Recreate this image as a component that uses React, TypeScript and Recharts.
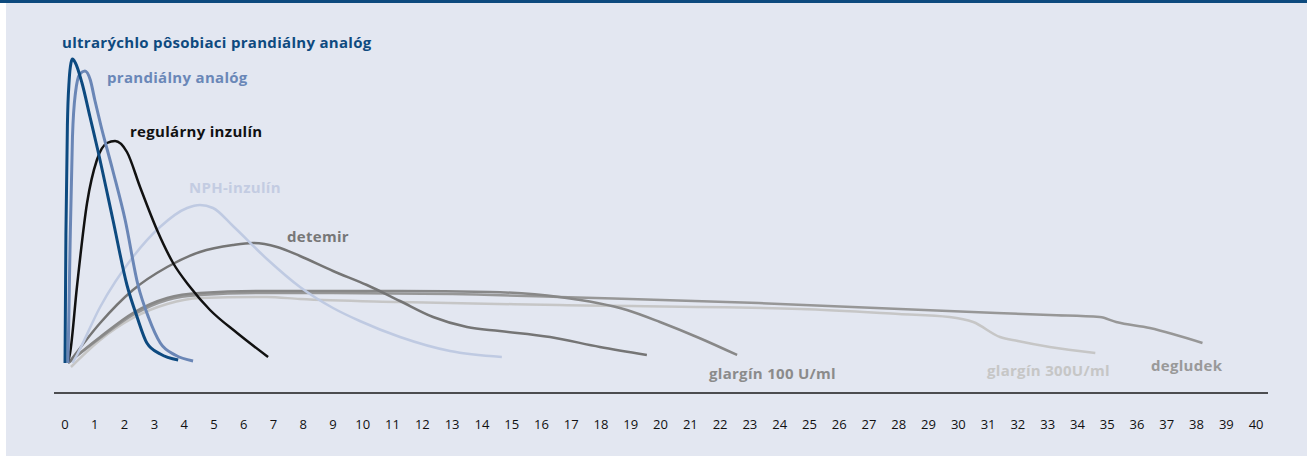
import React from "react";
import { LineChart, Line, XAxis, YAxis } from "recharts";

// hours after injection
const hourTicks = Array.from({ length: 41 }, (_, i) => i);

// each profile: time (h) and action (arbitrary units)
const ultraT = [0, 0.03, 0.08, 0.14, 0.2, 0.25, 0.35, 0.57, 0.84, 1.1, 1.61, 2.08, 2.42, 2.75, 3.2, 3.8];
const ultraV = [2, 130, 240, 285, 302, 306, 302, 282, 248, 215, 145, 80, 48, 22, 11, 5];

const prandialT = [0.1, 0.17, 0.25, 0.35, 0.5, 0.67, 0.85, 1.0, 1.2, 1.6, 2.02, 2.45, 2.8, 3.2, 3.7, 4.3];
const prandialV = [2, 120, 228, 272, 291, 294, 285, 265, 240, 195, 145, 80, 48, 22, 10, 4];

const regularT = [0.1, 0.17, 0.4, 0.74, 1.07, 1.41, 1.68, 2.08, 2.52, 3.09, 3.63, 4.2, 4.87, 5.78, 6.82];
const regularV = [3, 12, 78, 162, 205, 222, 224, 213, 178, 135, 102, 78, 55, 32, 8];

const nphT = [0.25, 0.4, 1.18, 2.28, 3.19, 4.1, 4.53, 4.97, 5.64, 6.78, 7.89, 9.0, 9.9, 11.25, 12.93, 14.67];
const nphV = [2, 10, 58, 108, 138, 157, 160, 157, 139, 106, 78, 57, 44, 28, 14, 8];

const detemirT = [0.15, 1.18, 2.28, 3.43, 4.53, 5.64, 6.31, 7.12, 7.89, 9.0, 10.14, 11.25, 12.36, 13.5, 14.6, 16.29, 17.96, 19.54];
const detemirV = [3, 42, 75, 98, 113, 120, 122, 118, 109, 94, 80, 64, 48, 38, 34, 28, 18, 10];

const glargin100T = [0.1, 1.18, 2.28, 3.43, 4.53, 6.78, 9.0, 11.25, 14.27, 16.6, 18.87, 19.98, 21.3, 22.57];
const glargin100V = [2, 28, 52, 67, 72, 74, 74, 74, 73, 68, 55, 43, 27, 10];

const glargin300T = [0.2, 1.18, 2.28, 3.43, 4.53, 6.78, 7.89, 11.25, 16.6, 24.7, 28.0, 29.7, 30.5, 31.4, 32.0, 33.07, 34.6];
const glargin300V = [-2, 25, 47, 61, 67, 68, 66, 63, 60, 56, 51, 48, 43, 28, 24, 18, 12];

const degludekT = [0.1, 1.18, 2.28, 3.43, 4.53, 6.78, 9.0, 13.0, 16.6, 23.3, 28.04, 33.07, 34.75, 35.3, 36.43, 38.2];
const degludekV = [2, 27, 50, 65, 70, 72, 72, 71, 68, 62, 56, 50, 48, 43, 37, 22];

const toPoints = (t: number[], v: number[]) => t.map((x, i) => ({ t: x, v: v[i] }));

const series = [
  { name: "glargín 300U/ml", data: toPoints(glargin300T, glargin300V), color: "#c6c6c6", width: 2.5 },
  { name: "degludek", data: toPoints(degludekT, degludekV), color: "#979797", width: 2.5 },
  { name: "glargín 100 U/ml", data: toPoints(glargin100T, glargin100V), color: "#888888", width: 2.5 },
  { name: "detemir", data: toPoints(detemirT, detemirV), color: "#757575", width: 2.5 },
  { name: "NPH-inzulín", data: toPoints(nphT, nphV), color: "#bfcae2", width: 2.5 },
  { name: "regulárny inzulín", data: toPoints(regularT, regularV), color: "#111111", width: 2.5 },
  { name: "prandiálny analóg", data: toPoints(prandialT, prandialV), color: "#6a86b6", width: 3 },
  { name: "ultrarýchlo pôsobiaci prandiálny analóg", data: toPoints(ultraT, ultraV), color: "#0d4a80", width: 3 },
];

const labels = [
  { text: "ultrarýchlo pôsobiaci prandiálny analóg", x: 62, y: 42, color: "#0e4a7f" },
  { text: "prandiálny analóg", x: 107, y: 77, color: "#6a87b8" },
  { text: "regulárny inzulín", x: 130, y: 131, color: "#111111" },
  { text: "NPH-inzulín", x: 189, y: 187, color: "#c3cce2" },
  { text: "detemir", x: 287, y: 236, color: "#777777" },
  { text: "glargín 100 U/ml", x: 709, y: 373, color: "#8b8b8b" },
  { text: "glargín 300U/ml", x: 987, y: 370, color: "#c6c6c6" },
  { text: "degludek", x: 1151, y: 365, color: "#999999" },
];

export default function App() {
  return (
    <div
      style={{
        position: "absolute",
        left: 0,
        top: 0,
        width: 1307,
        height: 456,
        background: "#ffffff",
        overflow: "hidden",
        fontFamily: "'Open Sans', sans-serif",
      }}
    >
      <div style={{ position: "absolute", left: 6, top: 0, right: 0, bottom: 0, background: "#e3e7f1" }} />
      <div style={{ position: "absolute", left: 0, top: 0, right: 0, height: 3, background: "#0d4a7e" }} />
      <div style={{ position: "absolute", left: 0, top: 0 }}>
        <LineChart width={1307} height={456} margin={{ top: 0, right: 39, bottom: 0, left: 54 }}>
          <XAxis
            type="number"
            dataKey="t"
            domain={[-0.37, 40.4]}
            ticks={hourTicks}
            interval={0}
            allowDataOverflow
            height={63}
            tickLine={false}
            tickMargin={21}
            axisLine={{ stroke: "#1a1a1a", strokeWidth: 1.5 }}
            tick={{ fontSize: 13, fill: "#111", fontFamily: "'Open Sans', sans-serif" }}
          />
          <YAxis hide type="number" domain={[-28, 365]} allowDataOverflow />
          {series.map((s) => (
            <Line
              key={s.name}
              data={s.data}
              dataKey="v"
              type="monotone"
              stroke={s.color}
              strokeWidth={s.width}
              dot={false}
              activeDot={false}
              isAnimationActive={false}
            />
          ))}
        </LineChart>
      </div>
      {labels.map((l) => (
        <div
          key={l.text}
          style={{
            position: "absolute",
            left: l.x,
            top: l.y - 10,
            lineHeight: "20px",
            fontSize: 15,
            letterSpacing: 0.3,
            fontWeight: 700,
            color: l.color,
            whiteSpace: "nowrap",
          }}
        >
          {l.text}
        </div>
      ))}
    </div>
  );
}
